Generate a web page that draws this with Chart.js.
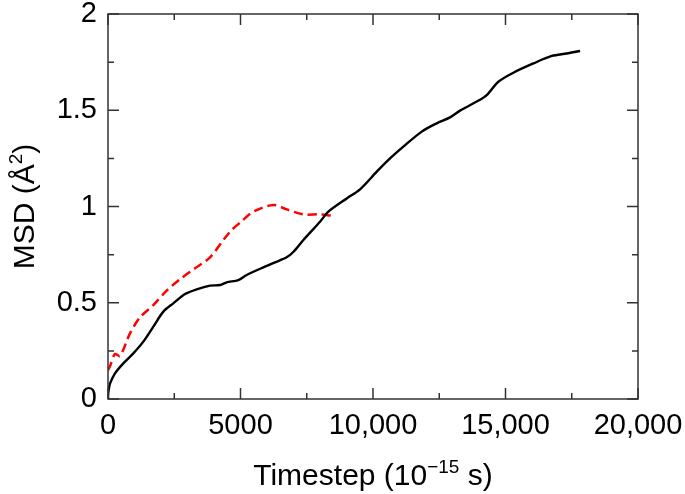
<!DOCTYPE html>
<html>
<head>
<meta charset="utf-8">
<title>MSD vs timestep</title>
<script src="https://cdn.jsdelivr.net/npm/chart.js@4.4.1/dist/chart.umd.min.js"></script>
<style>
  html, body { margin: 0; padding: 0; background: #fff; }
  #wrap { width: 685px; height: 494px; }
</style>
</head>
<body>
<div id="wrap"><canvas id="msd-chart" width="685" height="494"></canvas></div>
<script>
// data
const solidSteps = [0, 10, 30, 75, 264, 577, 955, 1333, 1711, 2088, 2465, 2906, 3347, 3850, 4227, 4479, 4918,
  5233, 5862, 6300, 6743, 7000, 7372, 8001, 8315, 9010, 9510, 10141, 10643, 11145, 11838, 12404, 12907,
  13284, 13913, 14291, 14730, 15296, 16051, 16745, 17311, 17814];
const solidMsd = [0, 0.03, 0.05, 0.08, 0.133, 0.185, 0.237, 0.298, 0.376, 0.454, 0.497, 0.545, 0.57, 0.589, 0.592, 0.606, 0.618,
  0.644, 0.684, 0.71, 0.736, 0.765, 0.826, 0.921, 0.973, 1.042, 1.089, 1.181, 1.25, 1.311, 1.389, 1.432, 1.463,
  1.498, 1.545, 1.579, 1.648, 1.695, 1.743, 1.782, 1.795, 1.808];

const dashedSteps = [0, 75, 264, 453, 830, 1208, 1711, 2214, 2717, 3220, 3850, 4352, 4667, 4982, 5484, 6239,
  6743, 7372, 8001, 8504];
const dashedMsd = [0.15, 0.17, 0.234, 0.223, 0.341, 0.424, 0.488, 0.563, 0.622, 0.673, 0.736, 0.826, 0.878, 0.916, 0.973, 1.008,
  0.985, 0.959, 0.959, 0.951];

const xTicks = [0, 5000, 10000, 15000, 20000];
const yTicks = [0, 0.5, 1, 1.5, 2];

const FONT = "'Liberation Sans', Arial, Helvetica, sans-serif";

function toPoints(xs, ys) {
  return xs.map((x, i) => ({ x: x, y: ys[i] }));
}

// draws the frame, inward ticks on all four sides and the axis titles
const framePlugin = {
  id: 'frame',
  afterDraw(chart) {
    const ctx = chart.ctx;
    const a = chart.chartArea;
    const xs = chart.scales.x;
    const ys = chart.scales.y;

    ctx.save();
    ctx.strokeStyle = '#333';
    ctx.lineWidth = 1.5;
    ctx.strokeRect(a.left, a.top, a.right - a.left, a.bottom - a.top);

    ctx.beginPath();
    const xStep = xTicks[1] - xTicks[0];
    for (let v = xTicks[0]; v <= xTicks[xTicks.length - 1]; v += xStep / 2) {
      const len = (v % xStep === 0) ? 11 : 6;
      const px = xs.getPixelForValue(v);
      ctx.moveTo(px, a.bottom); ctx.lineTo(px, a.bottom - len);
      ctx.moveTo(px, a.top); ctx.lineTo(px, a.top + len);
    }
    const yStep = yTicks[1] - yTicks[0];
    for (let i = 0; i <= (yTicks.length - 1) * 2; i++) {
      const v = yTicks[0] + i * yStep / 2;
      const len = (i % 2 === 0) ? 11 : 6;
      const py = ys.getPixelForValue(v);
      ctx.moveTo(a.left, py); ctx.lineTo(a.left + len, py);
      ctx.moveTo(a.right, py); ctx.lineTo(a.right - len, py);
    }
    ctx.stroke();

    // x title with superscript
    ctx.fillStyle = '#000';
    ctx.textBaseline = 'alphabetic';
    const big = '30px ' + FONT;
    const small = '19px ' + FONT;
    const parts = [['Timestep (10', big, 0], ['\u221215', small, -12], [' s)', big, 0]];
    let total = 0;
    parts.forEach(p => { ctx.font = p[1]; total += ctx.measureText(p[0]).width; });
    let cx = (a.left + a.right) / 2 - total / 2;
    parts.forEach(p => {
      ctx.font = p[1];
      ctx.fillText(p[0], cx, 485 + p[2]);
      cx += ctx.measureText(p[0]).width;
    });

    // y title, rotated
    ctx.translate(34, (a.top + a.bottom) / 2);
    ctx.rotate(-Math.PI / 2);
    const yparts = [['MSD (\u00C5', big, 0], ['2', small, -12], [')', big, 0]];
    total = 0;
    yparts.forEach(p => { ctx.font = p[1]; total += ctx.measureText(p[0]).width; });
    cx = -total / 2;
    yparts.forEach(p => {
      ctx.font = p[1];
      ctx.fillText(p[0], cx, p[2]);
      cx += ctx.measureText(p[0]).width;
    });
    ctx.restore();
  }
};

const ctx = document.getElementById('msd-chart').getContext('2d');
new Chart(ctx, {
  type: 'scatter',
  data: {
    datasets: [{
      label: 'solid',
      data: toPoints(solidSteps, solidMsd),
      showLine: true,
      borderColor: '#000',
      borderWidth: 2.4,
      pointRadius: 0,
      tension: 0.3
    }, {
      label: 'dashed',
      data: toPoints(dashedSteps, dashedMsd),
      showLine: true,
      borderColor: '#ff0000',
      borderWidth: 2.5,
      borderDash: [9, 5],
      pointRadius: 0,
      tension: 0.3
    }]
  },
  options: {
    responsive: false,
    animation: false,
    layout: { padding: { top: 14, right: 47, left: 0, bottom: 0 } },
    plugins: {
      legend: { display: false },
      tooltip: { enabled: false }
    },
    scales: {
      x: {
        type: 'linear',
        min: 0,
        max: 20000,
        afterBuildTicks: s => { s.ticks = xTicks.map(v => ({ value: v })); },
        afterFit: s => { s.height = 95; s.paddingLeft = 0; s.paddingRight = 0; },
        grid: { display: false, drawTicks: false },
        border: { display: false },
        ticks: {
          padding: 10,
          color: '#000',
          font: { family: FONT, size: 29 },
          maxRotation: 0,
          callback: v => v >= 10000 ? v.toLocaleString('en-US') : String(v)
        }
      },
      y: {
        min: 0,
        max: 2,
        afterBuildTicks: s => { s.ticks = yTicks.map(v => ({ value: v })); },
        afterFit: s => { s.width = 108; s.paddingTop = 0; s.paddingBottom = 0; },
        grid: { display: false, drawTicks: false },
        border: { display: false },
        ticks: {
          padding: 11,
          color: '#000',
          font: { family: FONT, size: 29 },
          callback: v => String(v)
        }
      }
    }
  },
  plugins: [framePlugin]
});
</script>
</body>
</html>
